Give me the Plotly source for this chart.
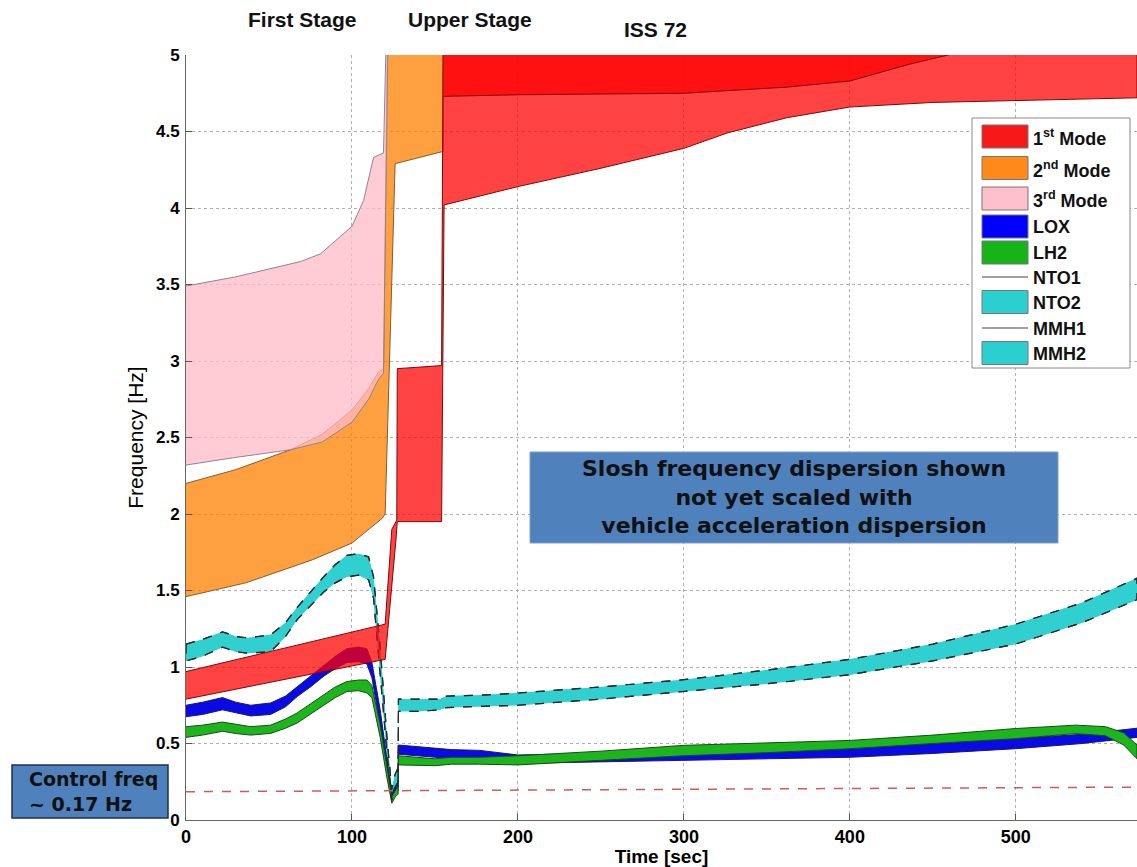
import plotly.graph_objects as go

# ---------------------------------------------------------------------------
# Data (time in sec, frequency in Hz)
# ---------------------------------------------------------------------------
# 1st mode, band A (first stage + upper stage, lower part)
RED1_T_UP = [0, 120, 124, 127, 127.3, 154, 155, 573]
RED1_UP = [0.97, 1.28, 1.90, 1.96, 2.95, 2.97, 5.3, 5.3]
RED1_T_LO = [0, 120, 126.5, 127.3, 154, 155.5, 200, 250, 300, 326, 362, 400, 450, 500, 573]
RED1_LO = [0.79, 1.05, 1.83, 1.95, 1.95, 4.02, 4.14, 4.26, 4.39, 4.49, 4.59, 4.66, 4.69, 4.70, 4.72]

# 1st mode, band B (upper stage, top part)
RED2_T = [155.5, 200, 300, 362, 400, 436, 463, 500, 573]
RED2_UP = [5.3, 5.3, 5.3, 5.3, 5.3, 5.3, 5.3, 5.3, 5.3]
RED2_LO = [4.73, 4.74, 4.75, 4.79, 4.83, 4.94, 5.01, 5.1, 5.2]

# 2nd mode
OR_T_UP = [0, 30, 63, 82, 100, 110, 116, 119, 121.5, 155]
OR_UP = [2.20, 2.29, 2.42, 2.52, 2.68, 2.82, 2.93, 2.95, 5.3, 5.3]
OR_T_LO = [0, 36, 76, 100, 118, 120, 126, 155]
OR_LO = [1.46, 1.55, 1.70, 1.81, 1.97, 2.00, 4.29, 4.37]

# 3rd mode
PK_T_UP = [0, 30, 69, 81, 100, 107, 113, 119, 121]
PK_UP = [3.49, 3.55, 3.65, 3.70, 3.88, 4.05, 4.33, 4.36, 5.3]
PK_T_LO = [0, 30, 63, 82, 100, 110, 116, 119, 122]
PK_LO = [2.32, 2.37, 2.42, 2.47, 2.60, 2.75, 2.88, 2.92, 5.3]

# NTO2 / MMH2 (cyan)
CY_T = [0, 10, 22, 30, 37, 51, 60, 67, 75, 83, 90, 97, 104, 110, 113, 117, 121, 124,
        126, 127.8, 128, 140, 153, 157, 177, 200, 250, 300, 350, 400, 450, 500, 540, 573]
CY_UP = [1.15, 1.18, 1.23, 1.20, 1.19, 1.21, 1.29, 1.39, 1.49, 1.59, 1.67, 1.73, 1.74,
         1.72, 1.59, 1.13, 0.55, 0.20, 0.30, 0.34, 0.79, 0.79, 0.79, 0.81, 0.815, 0.83,
         0.87, 0.917, 0.98, 1.05, 1.15, 1.28, 1.42, 1.58]
CY_LO = [1.04, 1.07, 1.13, 1.10, 1.09, 1.10, 1.20, 1.31, 1.40, 1.49, 1.55, 1.59, 1.60,
         1.57, 1.45, 0.98, 0.45, 0.13, 0.20, 0.25, 0.71, 0.71, 0.72, 0.735, 0.74, 0.75,
         0.79, 0.84, 0.89, 0.95, 1.04, 1.15, 1.29, 1.44]

# LOX (blue)
BL_T = [0, 10, 22, 30, 39, 51, 60, 67, 75, 83, 90, 97, 104, 109, 112, 117, 121, 124,
        126, 127.8, 128, 150, 160, 177, 200, 250, 300, 350, 400, 450, 500, 540, 573]
BL_UP = [0.75, 0.77, 0.80, 0.77, 0.75, 0.765, 0.81, 0.87, 0.94, 1.01, 1.07, 1.12, 1.13,
         1.12, 1.03, 0.72, 0.40, 0.17, 0.22, 0.25, 0.49, 0.47, 0.46, 0.455, 0.425, 0.435,
         0.445, 0.46, 0.478, 0.50, 0.532, 0.56, 0.60]
BL_LO = [0.675, 0.69, 0.72, 0.70, 0.68, 0.69, 0.74, 0.807, 0.87, 0.94, 0.99, 1.03, 1.035,
         1.02, 0.93, 0.62, 0.32, 0.12, 0.17, 0.19, 0.43, 0.41, 0.40, 0.39, 0.37, 0.38,
         0.39, 0.40, 0.41, 0.435, 0.466, 0.50, 0.54]

# LH2 (green)
GR_T = [0, 10, 22, 30, 39, 51, 60, 67, 75, 83, 90, 97, 104, 109, 112, 117, 121, 124,
        126, 127.8, 128, 150, 160, 177, 200, 250, 300, 350, 400, 450, 500, 520, 536,
        554, 565, 573]
GR_UP = [0.61, 0.62, 0.64, 0.625, 0.61, 0.62, 0.66, 0.70, 0.76, 0.82, 0.87, 0.905, 0.915,
         0.915, 0.88, 0.62, 0.35, 0.15, 0.19, 0.22, 0.42, 0.40, 0.41, 0.41, 0.42, 0.45,
         0.488, 0.505, 0.52, 0.555, 0.598, 0.61, 0.62, 0.61, 0.57, 0.49]
GR_LO = [0.54, 0.555, 0.58, 0.565, 0.555, 0.566, 0.60, 0.634, 0.69, 0.75, 0.80, 0.84,
         0.845, 0.83, 0.80, 0.54, 0.28, 0.11, 0.15, 0.17, 0.36, 0.355, 0.365, 0.365,
         0.36, 0.39, 0.42, 0.44, 0.466, 0.50, 0.532, 0.55, 0.565, 0.55, 0.49, 0.40]

# control frequency reference line
CTRL_T = [0, 573]
CTRL_F = [0.185, 0.215]

X_TICKS = [0, 100, 200, 300, 400, 500]
Y_TICKS = [0, 0.5, 1, 1.5, 2, 2.5, 3, 3.5, 4, 4.5, 5]
Y_TICK_TEXT = ["0", "0.5", "1", "1.5", "2", "2.5", "3", "3.5", "4", "4.5", "5"]

LEGEND_LABELS = ["1<sup>st</sup> Mode", "2<sup>nd</sup> Mode", "3<sup>rd</sup> Mode",
                 "LOX", "LH2", "NTO1", "NTO2", "MMH1", "MMH2"]
LEGEND_KINDS = ["box", "box", "box", "box", "box", "line", "box", "line", "box"]
LEGEND_COLORS = ["#f81818", "#ff8a1a", "#ffc0cb", "#0000ff", "#16b416",
                 "#808080", "#2ccfcf", "#808080", "#2ccfcf"]

FONT = "Liberation Sans"
BOX_FONT = "DejaVu Sans"

# page geometry (pixels)
W, H = 1137, 867
ML, MR, MT, MB = 186, 0, 55, 47


def px_x(px):
    return (px - ML) / (W - ML - MR)


def px_y(py):
    return (H - MB - py) / (H - MT - MB)


def band(t_up, up, t_lo, lo):
    """Closed polygon for a band between an upper and a lower boundary."""
    return list(t_up) + list(reversed(t_lo)), list(up) + list(reversed(lo))


fig = go.Figure()


def add_band(name, t_up, up, t_lo, lo, fill, line):
    x, y = band(t_up, up, t_lo, lo)
    fig.add_trace(go.Scatter(
        x=x, y=y, fill="toself", fillcolor=fill, mode="lines",
        line=dict(color=line, width=1), name=name, showlegend=False,
        hoverinfo="skip"))


add_band("2nd Mode", OR_T_UP, OR_UP, OR_T_LO, OR_LO, "rgba(255,128,0,0.75)", "#8a5a2a")
add_band("3rd Mode", PK_T_UP, PK_UP, PK_T_LO, PK_LO, "rgba(255,185,198,0.75)", "#8f8590")
add_band("NTO2", CY_T, CY_UP, CY_T, CY_LO, "#30d0d0", "rgba(0,0,0,0)")
add_band("MMH2", CY_T, CY_UP, CY_T, CY_LO, "#30d0d0", "rgba(0,0,0,0)")
add_band("LOX", BL_T, BL_UP, BL_T, BL_LO, "#0a0ae6", "#1a1a60")
add_band("LH2", GR_T, GR_UP, GR_T, GR_LO, "#1cb51c", "#1a4a1a")

# cyan band edges (NTO1 / MMH1 lines)
edge_x, edge_y = band(CY_T, CY_UP, CY_T, CY_LO)
for name in ["NTO1", "MMH1"]:
    fig.add_trace(go.Scatter(
        x=edge_x + [edge_x[0]], y=edge_y + [edge_y[0]], mode="lines",
        line=dict(color="#2a2a2a", width=1.2, dash="dash"),
        name=name, showlegend=False, hoverinfo="skip"))

add_band("1st Mode", RED1_T_UP, RED1_UP, RED1_T_LO, RED1_LO, "rgba(255,0,0,0.74)", "#7a0a0a")
add_band("1st Mode b", RED2_T, RED2_UP, RED2_T, RED2_LO, "rgba(255,0,0,0.74)", "#7a0a0a")

fig.add_trace(go.Scatter(
    x=CTRL_T, y=CTRL_F, mode="lines", showlegend=False, hoverinfo="skip",
    line=dict(color="#cf5a5a", width=1.5, dash="dash")))

fig.update_layout(
    width=W, height=H,
    margin=dict(l=ML, r=MR, t=MT, b=MB),
    paper_bgcolor="white", plot_bgcolor="white",
    font=dict(family=FONT, color="black"),
    showlegend=False,
)

fig.update_xaxes(
    range=[0, 573], tickvals=X_TICKS, ticks="inside", ticklen=6, tickcolor="#555",
    showline=True, linecolor="#666", linewidth=1,
    showgrid=True, gridcolor="#b0b0b0", griddash="dot", gridwidth=1, zeroline=False,
    tickfont=dict(family=FONT, size=18, weight="bold"),
    title=dict(text="Time [sec]", standoff=0,
               font=dict(family=FONT, size=19, weight="bold")))
fig.update_yaxes(
    range=[0, 5], tickvals=Y_TICKS, ticktext=Y_TICK_TEXT, ticks="inside", ticklen=6,
    tickcolor="#555", showline=True, linecolor="#666", linewidth=1,
    showgrid=True, gridcolor="#b0b0b0", griddash="dot", gridwidth=1, zeroline=False,
    tickfont=dict(family=FONT, size=17, weight="bold"), ticklabelstandoff=2,
    title=dict(text="Frequency [Hz]", standoff=6,
               font=dict(family=FONT, size=21)))

# legend drawn as a box with swatches
fig.add_shape(type="rect", xref="paper", yref="paper",
              x0=px_x(972), x1=px_x(1130), y0=px_y(368), y1=px_y(118),
              fillcolor="white", line=dict(color="#888", width=1))
legend_rows = [136.5, 168, 198.5, 226.5, 252.5, 277, 302, 328, 353]
for label, kind, color, cy in zip(LEGEND_LABELS, LEGEND_KINDS, LEGEND_COLORS, legend_rows):
    if kind == "box":
        fig.add_shape(type="rect", xref="paper", yref="paper",
                      x0=px_x(982), x1=px_x(1028), y0=px_y(cy + 11.5), y1=px_y(cy - 11.5),
                      fillcolor=color, line=dict(color="#777", width=1))
    else:
        fig.add_shape(type="line", xref="paper", yref="paper",
                      x0=px_x(982), x1=px_x(1028), y0=px_y(cy), y1=px_y(cy),
                      line=dict(color=color, width=1.5))
    fig.add_annotation(text=label, x=px_x(1031), y=px_y(cy + 1), xref="paper", yref="paper",
                       xanchor="left", yanchor="middle", showarrow=False,
                       font=dict(family=FONT, size=18, weight="bold", color="#111"))

# stage labels above the plot
for text, cx, cy in [("First Stage", 302, 20), ("Upper Stage", 470, 20), ("ISS 72", 655, 30)]:
    fig.add_annotation(text=text, x=px_x(cx), y=px_y(cy), xref="paper", yref="paper",
                       xanchor="center", yanchor="middle", showarrow=False,
                       font=dict(family=FONT, size=21, weight="bold", color="#111"))

# blue note boxes
fig.add_shape(type="rect", xref="paper", yref="paper",
              x0=px_x(530), x1=px_x(1058), y0=px_y(543), y1=px_y(452),
              fillcolor="#4f81bd", line=dict(color="#7f9fcf", width=1))
fig.add_annotation(
    text="Slosh frequency dispersion shown<br>not yet scaled with<br>"
         "vehicle acceleration dispersion",
    x=px_x(794), y=px_y(497.5), xref="paper", yref="paper",
    xanchor="center", yanchor="middle", showarrow=False,
    font=dict(family=BOX_FONT, size=22, weight="bold", color="#111"))

fig.add_shape(type="rect", xref="paper", yref="paper",
              x0=px_x(12), x1=px_x(168), y0=px_y(818), y1=px_y(765),
              fillcolor="#4f81bd", line=dict(color="#1f3050", width=1.5))
fig.add_annotation(
    text="Control freq<br>~ 0.17 Hz", align="left",
    x=px_x(27), y=px_y(791.5), xref="paper", yref="paper",
    xanchor="left", yanchor="middle", showarrow=False,
    font=dict(family=BOX_FONT, size=19, weight="bold", color="#111"))

fig.write_html("out.html", config={"displayModeBar": False},
               post_script="document.body.style.margin='0px';")
